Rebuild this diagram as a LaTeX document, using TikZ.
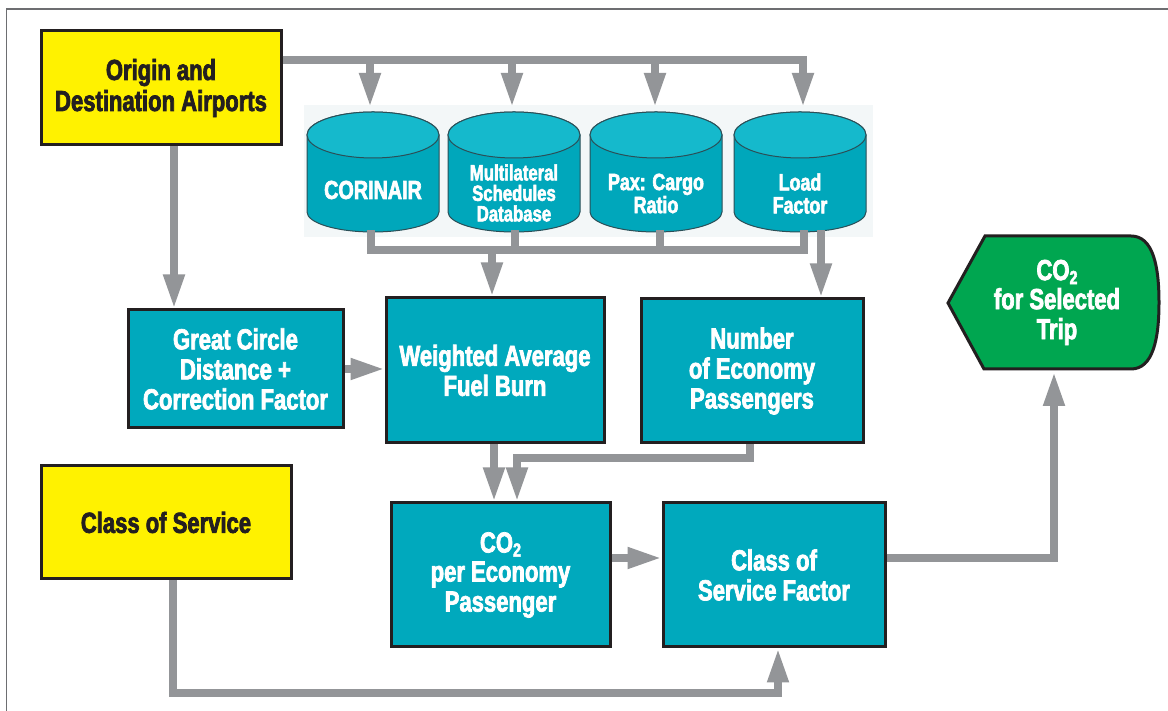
\documentclass[tikz,border=0pt]{standalone}
\usepackage{fontspec}
\usetikzlibrary{arrows.meta,calc}
\newfontfamily\cf[FakeStretch=0.76,FakeBold=2.5]{Liberation Sans Bold}
\newcommand\sub[1]{\raisebox{-4pt}{\fontsize{19}{19}\selectfont #1}}
\definecolor{tealbox}{HTML}{00A9BD}
\definecolor{cylbody}{HTML}{00A7BB}
\definecolor{cyltop}{HTML}{15B9CC}
\definecolor{cyledge}{HTML}{2B4F57}
\definecolor{cylbg}{HTML}{F3F7F8}
\definecolor{yel}{HTML}{FFF200}
\definecolor{grn}{HTML}{00A650}
\definecolor{outl}{HTML}{231F20}
\definecolor{arrgray}{HTML}{939598}
\definecolor{framegray}{HTML}{6D6E71}
\begin{document}
\begin{tikzpicture}[x=1pt,y=1pt,
  box/.style={draw=outl, line width=3pt, fill=tealbox, text=white, align=center,
    font=\cf\fontsize{29}{30}\selectfont, inner sep=0pt},
  ybox/.style={box, fill=yel, text=outl},
  cyltext/.style={text=white, align=center, inner sep=0pt},
  conn/.style={draw=arrgray, line width=7.5pt},
  arr/.style={conn, -{Triangle[length=34pt,width=20pt]}},
]
\useasboundingbox (0,0) rectangle (1168,711);
\fill[white] (0,0) rectangle (1168,711);
\draw[framegray, line width=1.2pt] (6.5,0) -- (6.5,702) -- (1168,702);

% cylinders
\fill[cylbg] (304,474) rectangle (873,606);
\foreach \cx in {373,514,656,800} {
  \filldraw[fill=cylbody, draw=cyledge, line width=1pt]
    (\cx-66,576) -- (\cx-66,499)
    arc[start angle=180, end angle=360, x radius=66, y radius=20]
    -- (\cx+66,576)
    arc[start angle=0, end angle=180, x radius=66, y radius=23] -- cycle;
  \filldraw[fill=cyltop, draw=cyledge, line width=1pt]
    (\cx,576) ellipse[x radius=66, y radius=23];
}
\node[cyltext, font=\cf\fontsize{26}{26}\selectfont] (c1) at (373,521) {CORINAIR};
\node[cyltext, font=\cf\fontsize{22}{20.5}\selectfont] (c2) at (514,518) {Multilateral\\Schedules\\Database};
\node[cyltext, font=\cf\fontsize{23.5}{23}\selectfont] (c3) at (656,517.5) {Pax: Cargo\\Ratio};
\node[cyltext, font=\cf\fontsize{23.5}{23}\selectfont] (c4) at (800,517.5) {Load\\Factor};

% boxes
\node[ybox, minimum width=240pt, minimum height=114pt,
  font=\cf\fontsize{29}{31}\selectfont] (orig) at (161,623) {Origin and\\Destination Airports};
\node[box, minimum width=215pt, minimum height=118pt] (gc) at (235.5,342) {Great Circle\\Distance +\\Correction Factor};
\node[box, minimum width=218pt, minimum height=145pt] (wa) at (495,340.5) {Weighted Average\\Fuel Burn};
\node[box, minimum width=222pt, minimum height=144pt] (num) at (752,340) {Number\\of Economy\\Passengers};
\node[ybox, minimum width=250pt, minimum height=113pt] (cos) at (166,188.5) {Class of Service};
\node[box, minimum width=219pt, minimum height=144pt] (co2) at (500.5,136) {CO\sub{2}\\[-1pt]per Economy\\Passenger};
\node[box, minimum width=222pt, minimum height=144pt] (csf) at (774,136) {Class of\\Service Factor};

% green terminal
\filldraw[fill=grn, draw=outl, line width=3pt, line join=miter]
  (985,475) -- (1131,475)
  .. controls (1153,475) and (1159,445) .. (1159,408.5)
  .. controls (1159,372) and (1153,342) .. (1131,342)
  -- (984,342) -- (948,408) -- cycle;
\node[cyltext, font=\cf\fontsize{29}{30}\selectfont] (trip) at (1057,408.5) {CO\sub{2}\\[-1pt]for Selected\\Trip};
\coordinate (gbot) at (1054,339);

% coordinates for connectors
\coordinate (t1) at (370,604);
\coordinate (t2) at (512,604);
\coordinate (t3) at (655,604);
\coordinate (t4) at (803,604);
\coordinate (bar1) at (803,651);
\coordinate (b1) at (371,481);
\coordinate (b2) at (515,481);
\coordinate (b3) at (660,481);
\coordinate (b4) at (804,481);
\coordinate (b5) at (821,481);
\coordinate (bar2) at (0,461);
\coordinate (w) at (492,0);
\coordinate (v1) at (174,0);
\coordinate (v2) at (494,0);
\coordinate (v3) at (750,0);
\coordinate (v4) at (517,253);
\coordinate (h1) at (0,153);
\coordinate (v5) at (1054,0);
\coordinate (h2) at (0,18);
\coordinate (v6) at (173,0);
\coordinate (v7) at (778,0);

% connectors
\draw[arr] (bar1 -| orig.east) -- (bar1) -- (t4);
\draw[arr] (t1 |- bar1) -- (t1);
\draw[arr] (t2 |- bar1) -- (t2);
\draw[arr] (t3 |- bar1) -- (t3);

\draw[conn] (b1) -- (b1 |- bar2) -- (b4 |- bar2) -- (b4);
\draw[conn] (b2) -- (b2 |- bar2);
\draw[conn] (b3) -- (b3 |- bar2);
\draw[arr] (w |- bar2) -- (w |- wa.north);
\draw[arr] (b5) -- (b5 |- num.north);

\draw[arr] (v1 |- orig.south) -- (v1 |- gc.north);
\draw[arr] (gc.east) -- (gc.east -| wa.west);
\draw[arr] (v2 |- wa.south) -- (v2 |- co2.north);
\draw[arr] (v3 |- num.south) -- (v3 |- v4) -- (v4) -- (v4 |- co2.north);
\draw[arr] (co2.east |- h1) -- (csf.west |- h1);
\draw[arr] (csf.east |- h1) -- (v5 |- h1) -- (gbot);
\draw[arr] (v6 |- cos.south) -- (v6 |- h2) -- (v7 |- h2) -- (v7 |- csf.south);
\end{tikzpicture}
\end{document}
